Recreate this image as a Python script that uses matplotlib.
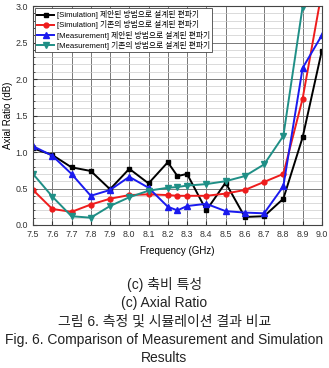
import matplotlib
matplotlib.use("Agg")
import matplotlib.pyplot as plt
from matplotlib.ticker import MultipleLocator

plt.rcParams['font.family'] = ['Liberation Sans', 'Noto Sans CJK KR']

# frequency points (GHz)
freq = [7.5, 7.6, 7.7, 7.8, 7.9, 8.0, 8.1, 8.2, 8.25, 8.3, 8.4, 8.5, 8.6, 8.7, 8.8, 8.9, 9.0]

sim_prop = [1.05, 0.96, 0.79, 0.74, 0.49, 0.77, 0.57, 0.86, 0.67, 0.70, 0.20, 0.58, 0.11, 0.12, 0.36, 1.20, 2.39]
sim_conv = [0.48, 0.22, 0.18, 0.28, 0.36, 0.41, 0.42, 0.41, 0.40, 0.40, 0.40, 0.43, 0.48, 0.59, 0.70, 1.73, 3.20]
meas_prop = [1.08, 0.95, 0.70, 0.40, 0.48, 0.66, 0.51, 0.25, 0.20, 0.26, 0.29, 0.19, 0.17, 0.16, 0.53, 2.15, 2.60]
meas_conv = [0.70, 0.39, 0.12, 0.10, 0.26, 0.38, 0.47, 0.51, 0.52, 0.54, 0.56, 0.60, 0.67, 0.83, 1.22, 2.99, 4.50]

labels = ['[Simulation] 제안된 방법으로 설계된 편파기',
          '[Simulation] 기존의 방법으로 설계된 편파기',
          '[Measurement] 제안된 방법으로 설계된 편파기',
          '[Measurement] 기존의 방법으로 설계된 편파기']

captions = ['(c) 축비 특성',
            '(c) Axial Ratio',
            '그림 6. 측정 및 시뮬레이션 결과 비교',
            'Fig. 6. Comparison of Measurement and Simulation',
            'Results']

fig = plt.figure(figsize=(3.29, 3.68), dpi=100)
ax = fig.add_axes([0.1003, 0.3886, 0.878, 0.595])

ax.plot(freq, sim_prop, color='black', marker='s', ms=3.5, lw=1.4, label=labels[0])
ax.plot(freq, sim_conv, color='#ee1c1c', marker='o', ms=3.5, lw=1.4, label=labels[1])
ax.plot(freq, meas_prop, color='#1a1aee', marker='^', ms=3.8, lw=1.4, label=labels[2])
ax.plot(freq, meas_conv, color='#1f8f86', marker='v', ms=3.8, lw=1.4, label=labels[3])

ax.set_xlim(7.5, 9.0)
ax.set_ylim(0, 3.0)
ax.set_xticks([7.5 + 0.1 * i for i in range(16)])
ax.set_xticklabels([f"{7.5 + 0.1 * i:.1f}" for i in range(16)])
ax.yaxis.set_major_locator(MultipleLocator(0.5))
ax.yaxis.set_minor_locator(MultipleLocator(0.1))
ax.yaxis.set_major_formatter(matplotlib.ticker.FormatStrFormatter('%.1f'))

ax.grid(True, which='major', axis='both', color='#777777', lw=0.7)
ax.grid(True, which='minor', axis='y', color='#cccccc', lw=0.5)
ax.set_axisbelow(True)
ax.tick_params(which='both', direction='in', labelsize=6.4, colors='#333333')
ax.tick_params(which='major', length=3)
ax.tick_params(which='minor', length=1.5)
for s in ax.spines.values():
    s.set_color('#444444')
    s.set_linewidth(0.8)

ax.set_xlabel('Frequency (GHz)', fontsize=7, labelpad=5)
ax.set_ylabel('Axial Ratio (dB)', fontsize=7, labelpad=2)

leg = ax.legend(loc='upper left', fontsize=5.6, handlelength=2.2, borderpad=0.3,
                labelspacing=0.15, handletextpad=0.3, fancybox=False,
                framealpha=1, edgecolor='#444444', borderaxespad=0.25)
leg.get_frame().set_linewidth(0.6)

ys = [285, 303, 322, 340, 358]
for txt, y in zip(captions, ys):
    fig.text(0.5, 1 - y / 368, txt, ha='center', va='center', fontsize=10,
             family=['Liberation Sans', 'Noto Sans CJK KR'], color='#222222')

fig.savefig('out.png', dpi=100)
